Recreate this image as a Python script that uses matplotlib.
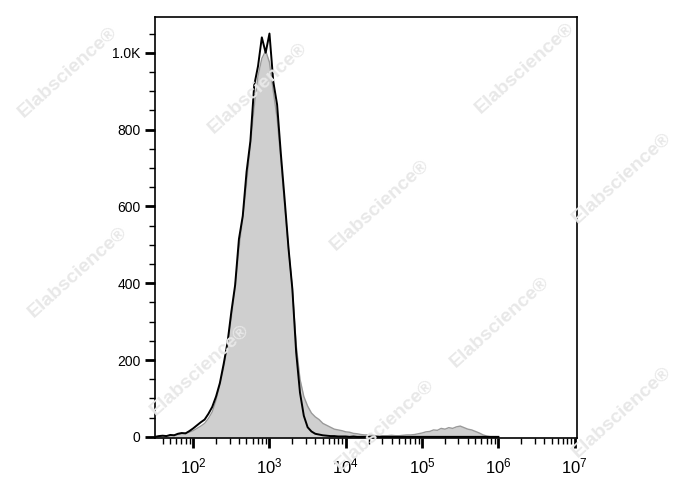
import numpy as np
import matplotlib
matplotlib.use("Agg")
import matplotlib.pyplot as plt
from matplotlib.ticker import FixedLocator, LogLocator, NullFormatter, FuncFormatter

plt.rcParams['font.family'] = ['Liberation Sans', 'DejaVu Sans']
plt.rcParams['mathtext.fontset'] = 'custom'
plt.rcParams['mathtext.rm'] = 'Liberation Sans'
plt.rcParams['mathtext.it'] = 'Liberation Sans:italic'
plt.rcParams['mathtext.bf'] = 'Liberation Sans:bold'

# bin centres (log10 of fluorescence)
log_bins = [1.50, 1.55, 1.60, 1.65, 1.70, 1.75, 1.80, 1.85, 1.90, 1.95,
            2.00, 2.05, 2.10, 2.15, 2.20, 2.25, 2.30, 2.35, 2.40, 2.45,
            2.50, 2.55, 2.60, 2.65, 2.70, 2.75, 2.80, 2.85, 2.90, 2.95,
            3.00, 3.05, 3.10, 3.15, 3.20, 3.25, 3.30, 3.35, 3.40, 3.45,
            3.50, 3.55, 3.60, 3.65, 3.70, 3.75, 3.80, 3.85, 3.90, 3.95,
            4.00, 4.05, 4.10, 4.15, 4.20, 4.25, 4.30, 4.35, 4.40, 4.45,
            4.50, 4.55, 4.60, 4.65, 4.70, 4.75, 4.80, 4.85, 4.90, 4.95,
            5.00, 5.05, 5.10, 5.15, 5.20, 5.25, 5.30, 5.35, 5.40, 5.45,
            5.50, 5.55, 5.60, 5.65, 5.70, 5.75, 5.80, 5.85, 5.90, 5.95,
            6.00]

# stained sample (black line)
sample = [0, 2, 3, 2, 5, 4, 8, 10, 9, 15,
          22, 30, 38, 45, 60, 78, 105, 140, 190, 245,
          325, 395, 515, 575, 690, 770, 915, 965, 1040, 1000,
          1050, 925, 865, 735, 615, 490, 385, 220, 115, 55,
          25, 14, 8, 6, 4, 3, 2, 2, 1, 1,
          1, 0, 1, 0, 0, 0, 0, 0, 0, 0,
          0, 0, 0, 0, 0, 0, 0, 0, 0, 0,
          0, 0, 0, 0, 0, 0, 0, 0, 0, 0,
          0, 0, 0, 0, 0, 0, 0, 0, 0, 0,
          0]

# isotype control (grey filled)
control = [0, 1, 2, 3, 3, 5, 6, 8, 10, 12,
           16, 22, 28, 35, 48, 65, 95, 135, 180, 240,
           310, 390, 490, 570, 660, 760, 860, 940, 985, 1005,
           975, 900, 830, 720, 600, 490, 385, 240, 150, 105,
           80, 62, 52, 45, 35, 30, 25, 20, 18, 16,
           13, 12, 9, 8, 6, 5, 5, 4, 3, 3,
           3, 3, 4, 3, 3, 4, 5, 5, 6, 8,
           10, 13, 14, 18, 17, 22, 20, 24, 22, 26,
           28, 24, 20, 18, 14, 10, 5, 2, 0, 0,
           0]

x = 10 ** np.array(log_bins)

fig = plt.figure(figsize=(6.88, 4.90), dpi=100)
ax = fig.add_axes([155 / 688, 1 - 438 / 490, 422 / 688, 421 / 490])

ax.fill_between(x, control, color='#cfcfcf', lw=0)
ax.plot(x, control, color='#9a9a9a', lw=1.0)
ax.plot(x, sample, color='black', lw=1.4)

ax.set_xscale('log')
ax.set_xlim(10 ** 1.5, 10 ** 7.03)
ax.set_ylim(-3, 1093)

ax.xaxis.set_major_locator(FixedLocator([1e2, 1e3, 1e4, 1e5, 1e6, 1e7]))
ax.xaxis.set_major_formatter(FuncFormatter(lambda v, p: r'$10^{%d}$' % round(np.log10(v))))
ax.xaxis.set_minor_locator(LogLocator(base=10, subs=np.arange(2, 10), numticks=20))
ax.xaxis.set_minor_formatter(NullFormatter())

ax.yaxis.set_major_locator(FixedLocator([0, 200, 400, 600, 800, 1000]))
ax.yaxis.set_major_formatter(FuncFormatter(lambda v, p: '1.0K' if v == 1000 else '%d' % v))
ax.yaxis.set_minor_locator(FixedLocator(np.arange(0, 1100, 50)))

ax.tick_params(axis='both', which='major', direction='out', length=7, width=2, labelsize=10)
ax.tick_params(axis='both', which='minor', direction='out', length=4, width=1)
ax.tick_params(axis='x', which='major', labelsize=12, pad=6)
for s in ax.spines.values():
    s.set_linewidth(1.2)

# watermark
marks = [(68, 72), (258, 88), (525, 68), (380, 205), (622, 178),
         (78, 272), (500, 322), (200, 370), (622, 412), (385, 425)]
for px, py in marks:
    fig.text(px / 688, 1 - py / 490, 'Elabscience\u00ae', rotation=42, fontsize=14,
             color='#e8e8e8', ha='center', va='center', fontweight='bold', zorder=0)

fig.savefig('out.png', dpi=100)
